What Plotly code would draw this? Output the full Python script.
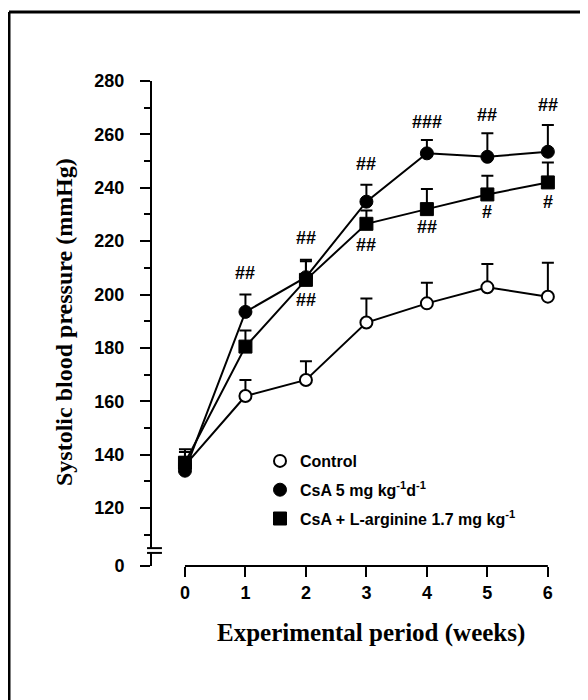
import plotly.graph_objects as go

weeks = [0, 1, 2, 3, 4, 5, 6]
control = [136, 162, 168, 189.5, 196.7, 202.7, 199.2]
control_err = [5, 6, 7, 9, 7.7, 8.7, 12.7]
csa = [134, 193.5, 206.5, 234.8, 252.9, 251.6, 253.5]
csa_err = [5, 6.5, 6.5, 6.3, 5, 8.8, 10]
csa_arg = [137, 180.5, 205.5, 226.5, 232, 237.5, 242]
csa_arg_err = [5, 6, 7, 5, 7.5, 7, 7.5]

hash_x = [1, 2, 2, 3, 3, 4, 4, 5, 5, 6, 6]
hash_y = [208, 221, 198, 249, 218.6, 264.8, 225.4, 267.3, 231, 271, 234.8]
hash_text = ["##", "##", "##", "##", "##", "###", "##", "##", "#", "##", "#"]

y_major = [120, 140, 160, 180, 200, 220, 240, 260, 280]
y_minor = [110, 130, 150, 170, 190, 210, 230, 250, 270]
y_zero_pos = 98.3
y_break = (103.2, 105.0)

names = ["<b>Control</b>", "<b>CsA 5 mg kg<sup>-1</sup>d<sup>-1</sup></b>",
         "<b>CsA + L-arginine 1.7 mg kg<sup>-1</sup></b>"]

SANS = "Liberation Sans, Arial, sans-serif"
SERIF = "Liberation Serif, Times New Roman, serif"

# page body has an 8px margin; figure is sized to fill the rest of the window
BODY = 8
W, H = 588 - BODY, 700 - BODY
ML, MR, MT, MB = 152 - BODY, 22, 81 - BODY, 134
PW, PH = W - ML - MR, H - MT - MB


def px_x(page_x):
    return (page_x - BODY - ML) / PW


def px_y(page_y):
    return (MT + PH - (page_y - BODY)) / PH


fig = go.Figure()

series = [
    (control, control_err, dict(symbol="circle", size=12, color="white", line=dict(color="black", width=2))),
    (csa, csa_err, dict(symbol="circle", size=13, color="black", line=dict(color="black", width=1))),
    (csa_arg, csa_arg_err, dict(symbol="square", size=13, color="black", line=dict(color="black", width=1))),
]

for vals, err, mk in series:
    fig.add_trace(go.Scatter(
        x=weeks, y=vals, mode="lines+markers", showlegend=False,
        line=dict(color="black", width=2), marker=mk, cliponaxis=False,
        error_y=dict(type="data", symmetric=False, array=err,
                     arrayminus=[0] * len(err), color="black", thickness=2, width=6),
    ))

for i, ((vals, err, mk), nm) in enumerate(zip(series, names)):
    fig.add_trace(go.Scatter(
        x=[None], y=[None], mode="markers", name=nm, marker=mk,
        legendgroup=f"g{i}",
    ))

for hx, hy, ht in zip(hash_x, hash_y, hash_text):
    fig.add_annotation(x=hx, y=hy, text=f"<b>{ht}</b>", showarrow=False,
                       font=dict(family=SANS, size=18, color="black"))

# axis titles
fig.add_annotation(xref="paper", yref="paper", x=px_x(371), y=px_y(633),
                   xanchor="center", yanchor="middle", showarrow=False,
                   text="<b>Experimental period (weeks)</b>",
                   font=dict(family=SERIF, size=25, color="black"))
fig.add_annotation(xref="paper", yref="paper", x=px_x(64), y=px_y(322),
                   xanchor="center", yanchor="middle",
                   textangle=-90, showarrow=False,
                   text="<b>Systolic blood pressure (mmHg)</b>",
                   font=dict(family=SERIF, size=24, color="black"))

shapes = []
shapes.append(dict(type="line", xref="x", yref="paper", x0=weeks[0], x1=weeks[-1],
                   y0=0, y1=0, line=dict(color="black", width=2)))
shapes.append(dict(type="rect", xref="paper", yref="y", x0=-0.01, x1=0.01,
                   y0=y_break[0] + 0.3, y1=y_break[1] - 0.3,
                   fillcolor="white", line=dict(width=0), layer="above"))
for yb in y_break:
    shapes.append(dict(type="line", xref="paper", yref="y", x0=-0.012, x1=0.024,
                       y0=yb, y1=yb, line=dict(color="black", width=2), layer="above"))
shapes.append(dict(type="line", xref="paper", yref="paper",
                   x0=px_x(9), x1=px_x(9), y0=px_y(12), y1=px_y(720),
                   line=dict(color="black", width=3)))
shapes.append(dict(type="line", xref="paper", yref="paper",
                   x0=px_x(9), x1=px_x(620), y0=px_y(12), y1=px_y(12),
                   line=dict(color="black", width=3)))

fig.update_layout(
    width=W, height=H,
    margin=dict(l=ML, r=MR, t=MT, b=MB),
    paper_bgcolor="white", plot_bgcolor="white",
    shapes=shapes,
    showlegend=True,
    legend=dict(x=px_x(260), y=px_y(444), xanchor="left", yanchor="top",
                font=dict(family=SANS, size=16, color="black"),
                bgcolor="rgba(0,0,0,0)", tracegroupgap=5, itemwidth=30),
    xaxis=dict(range=[-0.545, 6.3], showgrid=False, zeroline=False, showline=False,
               tickvals=weeks, ticktext=[f"<b>{w}</b>" for w in weeks],
               ticks="outside", ticklen=10, tickwidth=2, tickcolor="black",
               tickfont=dict(family=SANS, size=18, color="black")),
    yaxis=dict(range=[y_zero_pos, 280], showgrid=False, zeroline=False,
               showline=True, linecolor="black", linewidth=2,
               tickvals=[y_zero_pos] + y_major,
               ticktext=["<b>0</b>"] + [f"<b>{v}</b>" for v in y_major],
               ticks="outside", ticklen=10, tickwidth=2, tickcolor="black",
               ticklabelstandoff=12,
               minor=dict(tickvals=y_minor, ticks="outside", ticklen=6,
                          tickwidth=2, tickcolor="black"),
               tickfont=dict(family=SANS, size=18, color="black")),
)

fig.write_html("out.html")
